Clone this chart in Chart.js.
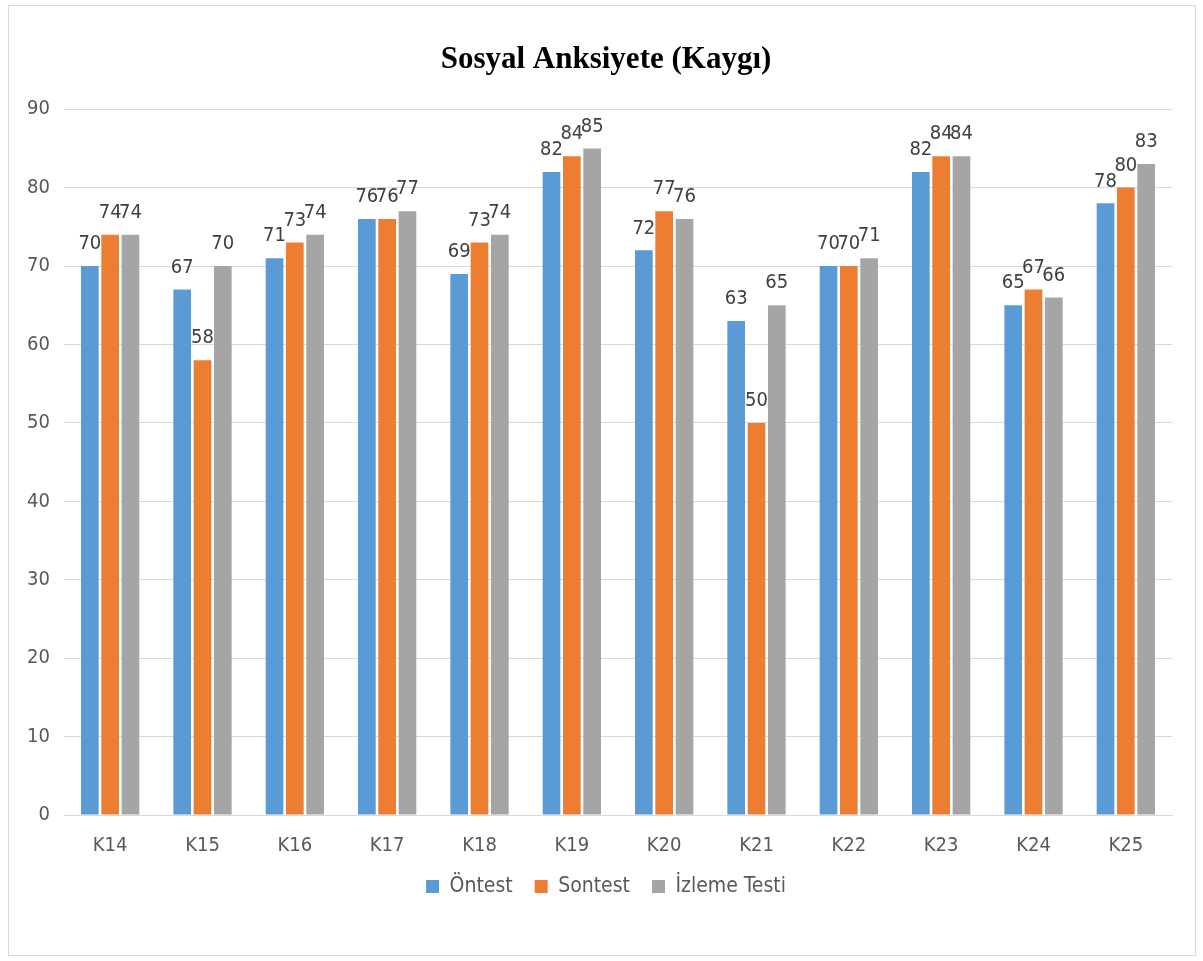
<!DOCTYPE html>
<html>
<head>
<meta charset="utf-8">
<script src="https://cdn.jsdelivr.net/npm/chart.js@4/dist/chart.umd.min.js"></script>
<style>
    html, body { margin: 0; padding: 0; background: #fff; }
    #frame { position: absolute; left: 8px; top: 5px; width: 1186px; height: 949px; border: 1px solid #d9d9d9; }
    #wrap { position: absolute; left: 0; top: 0; width: 1203px; height: 961px; }
</style>
</head>
<body>
<div id="frame"></div>
<div id="wrap"><canvas id="chart" width="1203" height="961"></canvas></div>
<script>
const categories = ['K14', 'K15', 'K16', 'K17', 'K18', 'K19', 'K20', 'K21', 'K22', 'K23', 'K24', 'K25']
const ontest = [70, 67, 71, 76, 69, 82, 72, 63, 70, 82, 65, 78]
const sontest = [74, 58, 73, 76, 73, 84, 77, 50, 70, 84, 67, 80]
const izleme = [74, 70, 74, 77, 74, 85, 76, 65, 71, 84, 66, 83]
const yTicks = [0, 10, 20, 30, 40, 50, 60, 70, 80, 90]

const FONT = "'Liberation Sans Narrow', 'DejaVu Sans Condensed', sans-serif"

// value labels above bars, plus axis labels drawn by hand so the tight axis boxes don't clip them
const labelsPlugin = {
    id: 'labelsPlugin',
    afterDatasetsDraw(chart) {
        const ctx = chart.ctx
        ctx.save()
        ctx.font = `20px ${FONT}`
        ctx.fillStyle = '#404040'
        ctx.textAlign = 'center'
        ctx.textBaseline = 'bottom'
        chart.data.datasets.forEach((ds, i) => {
            chart.getDatasetMeta(i).data.forEach((bar, j) => {
                ctx.fillText(ds.data[j], bar.x, bar.y - 12)
            })
        })

        const x = chart.scales.x
        const y = chart.scales.y
        ctx.fillStyle = '#595959'
        ctx.textBaseline = 'middle'
        categories.forEach((c, i) => ctx.fillText(c, x.getPixelForValue(i), x.top + 31))

        ctx.textAlign = 'right'
        yTicks.forEach(v => ctx.fillText(v, y.right - 14, y.getPixelForValue(v)))
        ctx.restore()
    }
}

new Chart(document.getElementById('chart'), {
    type: 'bar',
    data: {
        labels: categories,
        datasets: [
            { label: 'Öntest', data: ontest, backgroundColor: '#5b9bd5' },
            { label: 'Sontest', data: sontest, backgroundColor: '#ed7d31' },
            { label: 'İzleme Testi', data: izleme, backgroundColor: '#a5a5a5' }
        ]
    },
    options: {
        responsive: false,
        animation: false,
        layout: { padding: { left: 40, right: 31, top: 0, bottom: 54 } },
        datasets: { bar: { categoryPercentage: 0.66, barPercentage: 0.87 } },
        plugins: {
            title: {
                display: true,
                text: 'Sosyal Anksiyete (Kaygı)',
                color: '#000',
                font: { family: "'Liberation Serif', serif", size: 31, weight: 'bold' },
                padding: { top: 41, bottom: 31 }
            },
            legend: {
                position: 'bottom',
                labels: {
                    color: '#595959',
                    font: { family: FONT, size: 21 },
                    boxWidth: 13,
                    boxHeight: 13,
                    padding: 22
                }
            },
            tooltip: { enabled: false }
        },
        scales: {
            x: {
                afterFit: axis => { axis.height = 39 },
                grid: { display: false, drawTicks: false },
                border: { color: '#d9d9d9' },
                ticks: { display: false }
            },
            y: {
                min: 0,
                max: 90,
                afterBuildTicks: axis => { axis.ticks = yTicks.map(v => ({ value: v })) },
                afterFit: axis => { axis.width = 24 },
                grid: { color: '#d9d9d9', drawTicks: false },
                border: { display: false },
                ticks: { display: false }
            }
        }
    },
    plugins: [labelsPlugin]
})
</script>
</body>
</html>
